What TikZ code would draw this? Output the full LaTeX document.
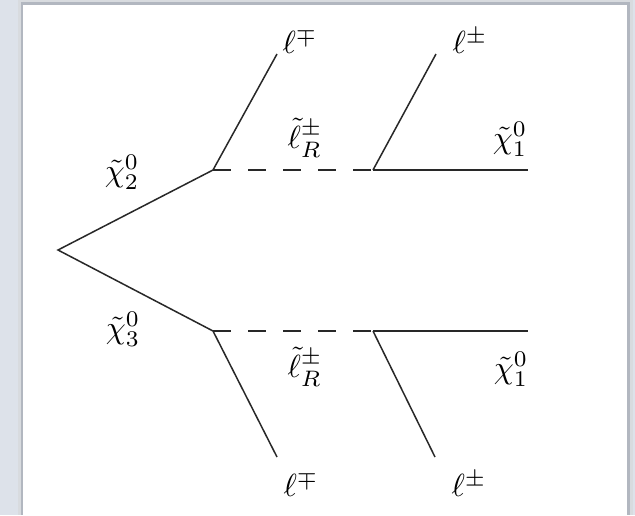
\documentclass[tikz,border=0pt]{standalone}
\usepackage{graphicx}
\definecolor{bgblue}{RGB}{221,226,234}
\definecolor{shadowgray}{RGB}{178,183,192}
\definecolor{linegray}{RGB}{40,40,40}
\tikzset{
  prop/.style={draw=linegray, line width=1.5pt},
  slep/.style={draw=linegray, line width=1.5pt, dash pattern=on 18pt off 17pt},
  lbl/.style={inner sep=0pt}
}
\newcommand{\feynlbl}[1]{\scalebox{3.2}{$#1$}}
\begin{document}
\begin{tikzpicture}[x=1pt,y=-1pt]
\useasboundingbox (0,0) rectangle (635,515);
\fill[bgblue] (0,0) rectangle (635,515);
\fill[shadowgray!50] (18,0) rectangle (633,515);
\fill[shadowgray] (21,2) rectangle (630,515);
\fill[white] (23,5) rectangle (627,515);
% vertices
\coordinate (A) at (58,250);
\coordinate (U) at (213,170);
\coordinate (L) at (213,331);
\coordinate (V1) at (373,170);
\coordinate (V2) at (373,331);
\coordinate (E1) at (528,170);
\coordinate (E2) at (528,331);
\coordinate (T1) at (277,54);
\coordinate (T2) at (436,54);
\coordinate (B1) at (277,457);
\coordinate (B2) at (435,457);
% lines
\draw[prop] (U) -- (A) -- (L);
\draw[slep] (U) -- (V1);
\draw[slep] (L) -- (V2);
\draw[prop] (V1) -- (E1);
\draw[prop] (V2) -- (E2);
\draw[prop] (U) -- (T1);
\draw[prop] (V1) -- (T2);
\draw[prop] (L) -- (B1);
\draw[prop] (V2) -- (B2);
% labels
\node[lbl] (chi2) at (122,172) {\feynlbl{\tilde\chi_2^0}};
\node[lbl] (chi3) at (123,329) {\feynlbl{\tilde\chi_3^0}};
\node[lbl] (slu) at (305,138) {\feynlbl{\tilde\ell_R^\pm}};
\node[lbl] (sll) at (305,367) {\feynlbl{\tilde\ell_R^\pm}};
\node[lbl] (chi1u) at (510,139) {\feynlbl{\tilde\chi_1^0}};
\node[lbl] (chi1l) at (511,369) {\feynlbl{\tilde\chi_1^0}};
\node[lbl] (lt1) at (300,41) {\feynlbl{\ell^\mp}};
\node[lbl] (lt2) at (470,41) {\feynlbl{\ell^\pm}};
\node[lbl] (lb1) at (301,484) {\feynlbl{\ell^\mp}};
\node[lbl] (lb2) at (469,484) {\feynlbl{\ell^\pm}};
\end{tikzpicture}
\end{document}
